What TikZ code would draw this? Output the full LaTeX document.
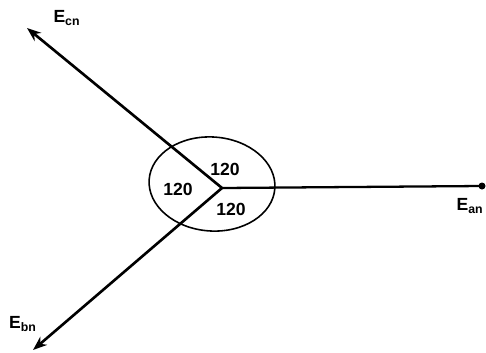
\documentclass[tikz,border=0pt]{standalone}
\usepackage{fontspec}
\setmainfont{Liberation Sans}
\usetikzlibrary{arrows.meta}

\begin{document}
\begin{tikzpicture}[
    x=0.02cm, y=-0.02cm,
    phasor/.style={line width=1.5pt, -{Stealth[length=8pt, width=6pt]}},
    phaselabel/.style={font=\bfseries\normalsize, inner sep=0pt},
    anglelabel/.style={font=\bfseries\normalsize, inner sep=0pt}
]
\useasboundingbox (0,0) rectangle (486,352);

% Neutral point and phasor ends
\coordinate (n) at (222,188);
\coordinate (an) at (482,186);
\coordinate (cn) at (27,28);
\coordinate (bn) at (33,350);

% Angle ellipse
\draw[line width=0.9pt, rotate around={-4:(212,184)}] (212,184) ellipse [x radius=63, y radius=47];

% Phasors
\draw[line width=1.3pt] (n) -- (an);
\fill (an) circle (3.5);
\draw[phasor] (n) -- (cn);
\draw[phasor] (n) -- (bn);

% Phasor labels
\node[phaselabel] (lan) at (470,206) {E\textsubscript{an}};
\node[phaselabel] (lcn) at (67,18) {E\textsubscript{cn}};
\node[phaselabel] (lbn) at (23,324) {E\textsubscript{bn}};

% Angles
\node[anglelabel] (a1) at (225,169) {120};
\node[anglelabel] (a2) at (178,189) {120};
\node[anglelabel] (a3) at (231,209) {120};

\end{tikzpicture}
\end{document}
